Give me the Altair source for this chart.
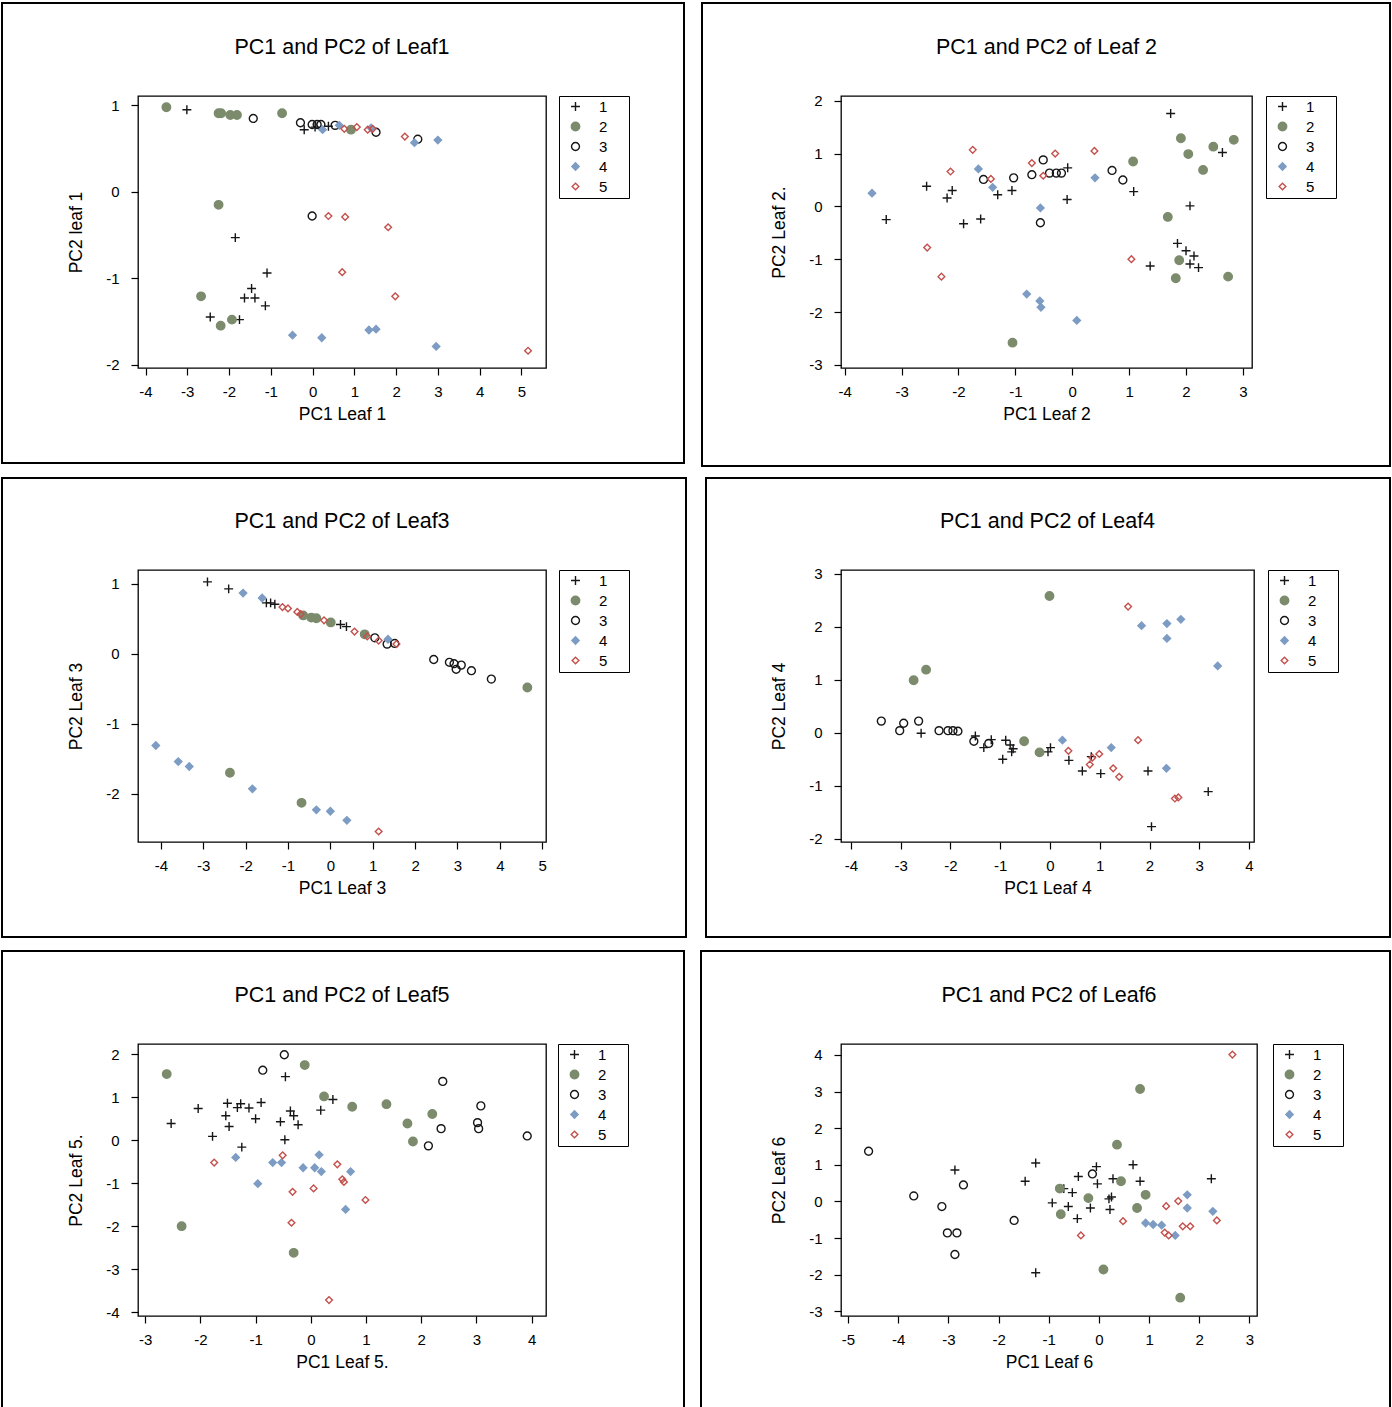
import altair as alt
import pandas as pd

FONT = "Liberation Sans"
GROUPS = ["1", "2", "3", "4", "5"]
PLUS = "M-1,0L1,0M0,-1L0,1"
SHAPES = [PLUS, "circle", "circle", "diamond", "diamond"]
STROKES = ["#161616", "#7b8b6c", "#161616", "#7d9cc4", "#c4504c"]
FILLS = ["transparent", "#7b8b6c", "transparent", "#7d9cc4", "transparent"]
SIZES = [80, 45, 85, 36, 55]

# ---------------- Leaf 1 ----------------
leaf1_g1 = [(-3.01, 0.95), (-0.20, 0.72), (0.06, 0.75), (0.38, 0.76), (-1.85, -0.53), (-1.09, -0.94),
            (-1.46, -1.12), (-1.63, -1.23), (-1.38, -1.23), (-1.13, -1.32), (-2.45, -1.45), (-1.75, -1.48)]
leaf1_g2 = [(-3.50, 0.98), (-2.25, 0.91), (-2.19, 0.91), (-1.97, 0.89), (-1.81, 0.89), (-0.73, 0.91),
            (0.92, 0.72), (-2.25, -0.15), (-2.67, -1.21), (-2.20, -1.55), (-1.93, -1.48)]
leaf1_g3 = [(-1.42, 0.85), (-0.29, 0.80), (-0.01, 0.78), (0.11, 0.78), (0.20, 0.78), (0.54, 0.77),
            (1.52, 0.69), (2.52, 0.61), (-0.01, -0.28)]
leaf1_g4 = [(0.24, 0.72), (0.64, 0.77), (1.40, 0.74), (2.44, 0.57), (3.00, 0.60), (-0.48, -1.66),
            (0.22, -1.69), (1.35, -1.60), (1.52, -1.59), (2.96, -1.79)]
leaf1_g5 = [(0.76, 0.73), (1.06, 0.75), (1.32, 0.72), (1.44, 0.73), (2.21, 0.64), (0.38, -0.28),
            (0.78, -0.29), (1.81, -0.41), (0.71, -0.93), (1.98, -1.21), (5.16, -1.84)]

# ---------------- Leaf 2 ----------------
leaf2_g1 = [(1.73, 1.76), (2.64, 1.02), (-2.56, 0.38), (-2.11, 0.30), (-2.20, 0.16), (-3.27, -0.25),
            (-1.91, -0.33), (-1.61, -0.24), (-1.31, 0.22), (-1.06, 0.30), (-0.08, 0.73), (-0.09, 0.13),
            (1.08, 0.28), (2.07, 0.01), (1.85, -0.70), (2.00, -0.84), (2.14, -0.94), (2.07, -1.09),
            (2.22, -1.16), (1.37, -1.13)]
leaf2_g2 = [(1.91, 1.29), (2.04, 0.99), (2.48, 1.13), (2.84, 1.26), (2.30, 0.69), (1.07, 0.85),
            (1.68, -0.20), (1.88, -1.02), (1.82, -1.36), (2.74, -1.33), (-1.05, -2.58)]
leaf2_g3 = [(-1.56, 0.51), (-1.03, 0.54), (-0.71, 0.60), (-0.51, 0.88), (-0.40, 0.63), (-0.28, 0.63),
            (-0.19, 0.63), (0.70, 0.68), (0.89, 0.50), (-0.56, -0.31)]
leaf2_g4 = [(-3.52, 0.25), (-1.65, 0.71), (-1.40, 0.36), (-0.56, -0.03), (0.40, 0.54), (-0.80, -1.66),
            (-0.57, -1.79), (-0.55, -1.91), (0.08, -2.16)]
leaf2_g5 = [(-1.75, 1.07), (-2.14, 0.66), (-1.43, 0.52), (-0.71, 0.82), (-0.51, 0.58), (-0.30, 1.00),
            (0.39, 1.05), (-2.55, -0.78), (-2.30, -1.33), (1.04, -1.00)]

# ---------------- Leaf 3 ----------------
leaf3_g1 = [(-2.90, 1.03), (-2.40, 0.93), (-1.51, 0.73), (-1.41, 0.73), (-1.31, 0.71), (0.24, 0.42),
            (0.38, 0.39)]
leaf3_g2 = [(-0.64, 0.55), (-0.45, 0.52), (-0.33, 0.51), (0.01, 0.45), (0.81, 0.28), (-2.37, -1.70),
            (-0.68, -2.13), (4.65, -0.48)]
leaf3_g3 = [(1.05, 0.23), (1.34, 0.14), (1.52, 0.15), (2.44, -0.08), (2.81, -0.12), (2.92, -0.14),
            (2.97, -0.22), (3.09, -0.16), (3.33, -0.24), (3.80, -0.36)]
leaf3_g4 = [(-2.06, 0.87), (-1.61, 0.80), (1.36, 0.21), (-4.12, -1.31), (-3.59, -1.54), (-3.33, -1.61),
            (-1.84, -1.93), (-0.33, -2.23), (0.00, -2.25), (0.39, -2.38)]
leaf3_g5 = [(-1.13, 0.67), (-1.00, 0.65), (-0.78, 0.60), (-0.70, 0.57), (-0.15, 0.48), (0.57, 0.32),
            (0.87, 0.25), (1.14, 0.19), (1.56, 0.14), (1.14, -2.54)]

# ---------------- Leaf 4 ----------------
leaf4_g1 = [(-2.59, -0.01), (-1.50, -0.06), (-1.33, -0.28), (-1.18, -0.13), (-0.95, -0.50), (-0.89, -0.14),
            (-0.80, -0.23), (-0.77, -0.36), (-0.74, -0.30), (-0.04, -0.36), (0.01, -0.28), (0.38, -0.52),
            (0.65, -0.72), (0.83, -0.45), (1.02, -0.77), (1.97, -0.72), (2.04, -1.77), (3.18, -1.11)]
leaf4_g2 = [(-0.01, 2.58), (-2.74, 0.99), (-2.49, 1.19), (-0.52, -0.16), (-0.21, -0.37)]
leaf4_g3 = [(-3.39, 0.22), (-3.02, 0.04), (-2.94, 0.18), (-2.64, 0.22), (-2.23, 0.04), (-2.05, 0.04),
            (-1.95, 0.04), (-1.85, 0.03), (-1.53, -0.16), (-1.23, -0.20)]
leaf4_g4 = [(1.84, 2.02), (2.35, 2.06), (2.63, 2.14), (2.35, 1.78), (3.37, 1.26), (0.25, -0.14),
            (1.23, -0.28), (2.34, -0.67)]
leaf4_g5 = [(1.57, 2.38), (1.77, -0.14), (0.37, -0.34), (0.80, -0.60), (0.85, -0.47), (0.99, -0.40),
            (1.27, -0.67), (1.39, -0.83), (2.51, -1.24), (2.58, -1.22)]

# ---------------- Leaf 5 ----------------
leaf5_g1 = [(-2.53, 0.39), (-2.04, 0.74), (-1.54, 0.57), (-1.51, 0.86), (-1.48, 0.32), (-1.33, 0.76),
            (-1.27, 0.85), (-1.12, 0.75), (-1.00, 0.50), (-0.90, 0.88), (-1.78, 0.09), (-1.25, -0.16),
            (-0.55, 0.43), (-0.46, 1.48), (-0.37, 0.68), (-0.31, 0.57), (-0.23, 0.36), (-0.47, 0.01),
            (0.18, 0.70), (0.40, 0.95)]
leaf5_g2 = [(-2.61, 1.54), (-0.11, 1.75), (0.24, 1.02), (0.75, 0.78), (1.37, 0.84), (1.75, 0.39),
            (1.85, -0.03), (2.20, 0.61), (-2.34, -2.00), (-0.31, -2.62)]
leaf5_g3 = [(-0.48, 1.99), (-0.87, 1.63), (2.39, 1.37), (3.08, 0.80), (2.36, 0.27), (3.02, 0.41),
            (3.04, 0.27), (2.13, -0.13), (3.92, 0.10)]
leaf5_g4 = [(-1.36, -0.40), (-0.69, -0.52), (-0.53, -0.52), (-0.14, -0.64), (0.07, -0.64), (0.15, -0.34),
            (0.19, -0.73), (0.72, -0.73), (-0.96, -1.01), (0.63, -1.61)]
leaf5_g5 = [(-1.75, -0.52), (-0.51, -0.35), (0.48, -0.56), (0.57, -0.91), (0.60, -0.97), (0.05, -1.12),
            (-0.33, -1.20), (0.99, -1.39), (-0.35, -1.92), (0.33, -3.72)]

# ---------------- Leaf 6 ----------------
leaf6_g1 = [(-2.87, 0.86), (-1.47, 0.55), (-1.26, 1.05), (-0.93, -0.04), (-0.70, 0.35), (-0.61, -0.14),
            (-0.53, 0.24), (-0.43, -0.47), (-0.41, 0.68), (-0.17, -0.18), (-0.05, 0.95), (-0.03, 0.48),
            (0.20, 0.07), (0.25, 0.12), (0.22, -0.22), (0.28, 0.62), (0.68, 1.00), (0.82, 0.55),
            (2.24, 0.62), (-1.26, -1.95)]
leaf6_g2 = [(0.82, 3.07), (0.36, 1.55), (0.44, 0.55), (-0.78, 0.35), (-0.21, 0.09), (-0.76, -0.35),
            (0.93, 0.18), (0.76, -0.18), (0.09, -1.86), (1.62, -2.63)]
leaf6_g3 = [(-4.59, 1.37), (-3.69, 0.15), (-3.13, -0.14), (-2.70, 0.45), (-3.02, -0.86), (-2.83, -0.86),
            (-2.87, -1.45), (-1.69, -0.52), (-0.13, 0.75)]
leaf6_g4 = [(0.93, -0.59), (1.08, -0.63), (1.25, -0.65), (1.52, -0.93), (1.76, 0.18), (1.76, -0.18),
            (2.27, -0.27)]
leaf6_g5 = [(2.66, 4.01), (-0.36, -0.93), (0.48, -0.54), (1.34, -0.13), (1.58, 0.01), (1.31, -0.85),
            (1.39, -0.93), (1.67, -0.68), (1.82, -0.68), (2.35, -0.52)]


def make_panel(groups, title, xtitle, ytitle, xdom, ydom, xticks, yticks, w, h, legx, frame):
    rows = []
    for g, pts in zip(GROUPS, groups):
        for a, b in pts:
            rows.append({"pc1": a, "pc2": b, "group": g})
    df = pd.DataFrame(rows)

    # an invisible one-character title on the right widens the legend box like R's
    leg = alt.Legend(
        title=".", titleOrient="right", titleColor="transparent", titleFontSize=15, titlePadding=14,
        orient="none", legendX=legx, legendY=0, padding=3,
        symbolOffset=6, labelOffset=16, rowPadding=4,
        labelFont=FONT, labelFontSize=15, labelColor="black",
        strokeColor="black", symbolStrokeWidth=1.4,
    )
    axis_common = dict(domain=False, grid=False, tickSize=7, tickColor="black", tickWidth=1.2,
                       labelFont=FONT, labelFontSize=15, labelColor="black",
                       labelFlush=False, labelOverlap=False, labelBound=False,
                       labelExpr="toString(datum.value)",
                       titleFont=FONT, titleFontSize=17.5, titleFontWeight="normal", titleColor="black")

    pts = alt.Chart(df).mark_point(strokeWidth=1.4, opacity=1).encode(
        x=alt.X("pc1:Q", scale=alt.Scale(domain=xdom, nice=False, zero=False),
                axis=alt.Axis(values=xticks, title=xtitle, titleX=w / 2, titleY=46, labelPadding=9,
                              titleAlign="center", titleBaseline="middle", **axis_common)),
        y=alt.Y("pc2:Q", scale=alt.Scale(domain=ydom, nice=False, zero=False),
                axis=alt.Axis(values=yticks, title=ytitle, titleX=-62, titleY=h / 2, titleAngle=270,
                              labelPadding=12,
                              titleAlign="center", titleBaseline="middle", labelAngle=0, **axis_common)),
        shape=alt.Shape("group:N", scale=alt.Scale(domain=GROUPS, range=SHAPES), legend=leg),
        stroke=alt.Stroke("group:N", scale=alt.Scale(domain=GROUPS, range=STROKES), legend=leg),
        fill=alt.Fill("group:N", scale=alt.Scale(domain=GROUPS, range=FILLS), legend=leg),
        size=alt.Size("group:N", scale=alt.Scale(domain=GROUPS, range=SIZES), legend=leg),
    )

    fx1, fx2, fy1, fy2 = frame
    box = alt.Chart(pd.DataFrame({"k": [0]})).mark_rect(
        fill="transparent", stroke="black", strokeWidth=2
    ).encode(x=alt.value(fx1), x2=alt.value(fx2), y=alt.value(fy1), y2=alt.value(fy2))

    # title sits inside the scanned frame: offset is measured from the frame top
    return alt.layer(box, pts).properties(
        width=w, height=h,
        title=alt.TitleParams(title, font=FONT, fontSize=21.5, fontWeight="normal", color="black",
                              anchor="middle", offset=fy1 + 37, frame="group"),
    )


p1 = make_panel([leaf1_g1, leaf1_g2, leaf1_g3, leaf1_g4, leaf1_g5], "PC1 and PC2 of Leaf1",
                "PC1 Leaf 1", "PC2 leaf 1", [-4.18, 5.59], [-2.04, 1.11],
                [-4, -3, -2, -1, 0, 1, 2, 3, 4, 5], [-2, -1, 0, 1], 408, 272, 421,
                (-136, 546, -93, 367))
p2 = make_panel([leaf2_g1, leaf2_g2, leaf2_g3, leaf2_g4, leaf2_g5], "PC1 and PC2 of Leaf 2",
                "PC1 Leaf 2", "PC2 Leaf 2.", [-4.065, 3.16], [-3.06, 2.09],
                [-4, -3, -2, -1, 0, 1, 2, 3], [-3, -2, -1, 0, 1, 2], 411, 272, 425,
                (-139, 549, -93, 370))
p3 = make_panel([leaf3_g1, leaf3_g2, leaf3_g3, leaf3_g4, leaf3_g5], "PC1 and PC2 of Leaf3",
                "PC1 Leaf 3", "PC2 Leaf 3", [-4.54, 5.09], [-2.69, 1.20],
                [-4, -3, -2, -1, 0, 1, 2, 3, 4, 5], [-2, -1, 0, 1], 408, 272, 421,
                (-136, 548, -92, 367))
p4 = make_panel([leaf4_g1, leaf4_g2, leaf4_g3, leaf4_g4, leaf4_g5], "PC1 and PC2 of Leaf4",
                "PC1 Leaf 4", "PC2 Leaf 4", [-4.20, 4.10], [-2.06, 3.07],
                [-4, -3, -2, -1, 0, 1, 2, 3, 4], [-2, -1, 0, 1, 2, 3], 413, 272, 427,
                (-135, 549, -92, 367))
p5 = make_panel([leaf5_g1, leaf5_g2, leaf5_g3, leaf5_g4, leaf5_g5], "PC1 and PC2 of Leaf5",
                "PC1 Leaf 5.", "PC2 Leaf 5.", [-3.13, 4.26], [-4.09, 2.24],
                [-3, -2, -1, 0, 1, 2, 3, 4], [-4, -3, -2, -1, 0, 1, 2], 408, 272, 420,
                (-136, 546, -93, 369))
p6 = make_panel([leaf6_g1, leaf6_g2, leaf6_g3, leaf6_g4, leaf6_g5], "PC1 and PC2 of Leaf6",
                "PC1 Leaf 6", "PC2 Leaf 6", [-5.14, 3.15], [-3.13, 4.30],
                [-5, -4, -3, -2, -1, 0, 1, 2, 3], [-3, -2, -1, 0, 1, 2, 3, 4], 416, 272, 432,
                (-140, 549, -93, 369))

chart = alt.concat(
    p1, p2, p3, p4, p5, p6, columns=2,
    spacing=alt.RowColnumber(row=202, column=295), bounds="flush",
).resolve_scale(
    shape="independent", stroke="independent", fill="independent", size="independent",
    x="independent", y="independent",
).properties(
    padding={"left": 0, "top": 1, "right": 0, "bottom": 0},
    background="white",
).configure_view(stroke="black", strokeWidth=1.3)

chart.save("out.html", embed_options={"renderer": "svg", "actions": False})
